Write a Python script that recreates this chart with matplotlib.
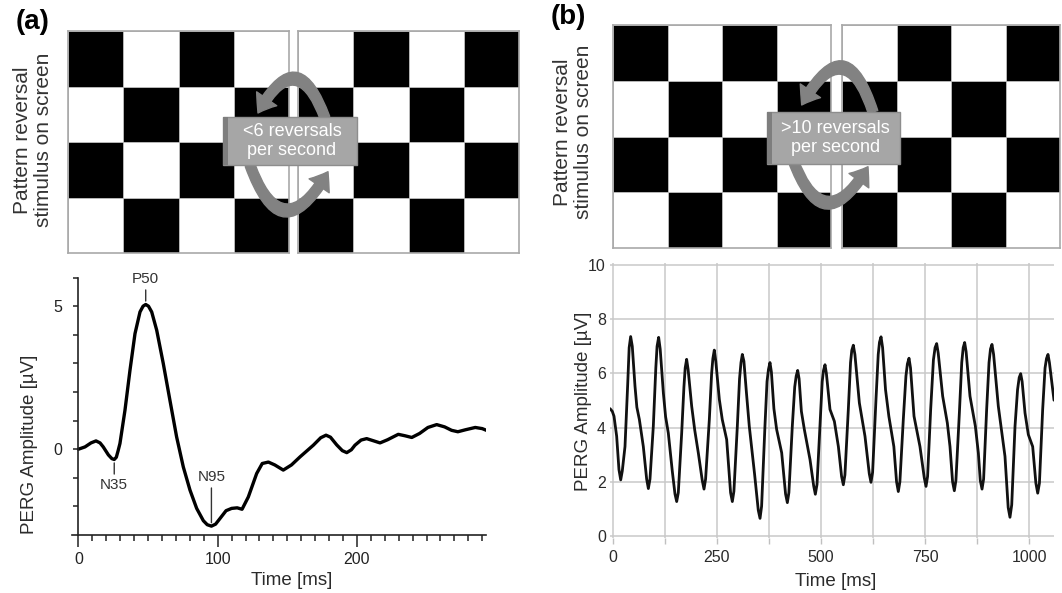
import matplotlib
matplotlib.use("Agg")
import matplotlib.pyplot as plt
import numpy as np
from matplotlib.patches import FancyArrowPatch, Rectangle
from matplotlib.ticker import FixedLocator

W, H = 1062, 593

# checkerboards (1 = black square), before and after a reversal
BOARD_FIRST = [[1, 0, 1, 0], [0, 1, 0, 1], [1, 0, 1, 0], [0, 1, 0, 1]]
BOARD_REVERSED = [[0, 1, 0, 1], [1, 0, 1, 0], [0, 1, 0, 1], [1, 0, 1, 0]]

STIM_LABEL = "Pattern reversal\nstimulus on screen"
RATE_A = "<6 reversals\nper second"
RATE_B = ">10 reversals\nper second"

# (a) transient PERG, time [ms] / amplitude [uV]
TRANS_T = [0, 4.7, 9, 12.6, 15.5, 17.8, 21.5, 24, 25.7, 27.2, 28.5, 29.8,
           33.4, 37, 40.6, 44.2, 46.4, 48.3, 50.3, 52.6, 56.2, 60.9, 65.7, 70.5,
           75.3, 80.1, 84.9, 89.7, 92.5, 95.5, 98.5, 101.7, 106, 110, 114, 117.5,
           122, 128, 132, 136.4, 141, 147.1, 153, 159.1, 168.7, 174,
           177.8, 181, 185.5, 189.5, 192.7, 196, 198.6, 203, 207, 211.5,
           216.6, 222, 229.7, 234.5, 239.4, 245, 251, 257.3, 263, 268,
           272.5, 278, 285, 290, 293]
TRANS_V = [0.0, 0.08, 0.22, 0.29, 0.22, 0.08, -0.2, -0.33, -0.36, -0.28, -0.05, 0.2,
           1.36, 2.76, 4.04, 4.80, 5.00, 5.06, 5.00, 4.80, 4.16, 3.0, 1.71, 0.43,
           -0.62, -1.43, -2.07, -2.5, -2.64, -2.69, -2.62, -2.42, -2.15, -2.07, -2.05, -2.1,
           -1.67, -0.85, -0.5, -0.45, -0.55, -0.73, -0.55, -0.27, 0.14, 0.4,
           0.49, 0.42, 0.15, -0.05, -0.12, -0.02, 0.14, 0.32, 0.37, 0.3,
           0.22, 0.33, 0.52, 0.47, 0.41, 0.55, 0.76, 0.86, 0.78, 0.66,
           0.61, 0.68, 0.76, 0.72, 0.66]
PEAK_NAMES = ["N35", "P50", "N95"]
PEAK_T = [25.7, 48.3, 95.5]
PEAK_V = [-0.36, 5.06, -2.69]

# (b) steady-state PERG, one row per cycle
SS_T = [-6.5, -1, 3.1, 9.5, 15, 19.2,
        23, 29.5, 36, 39.5, 43.1, 47, 53.5, 58, 64.0, 73.5, 81.5, 85.6,
        89.5, 97.5, 103.5, 106.5, 110.3, 114, 121.6, 127, 133.5, 143, 149.5, 153.6,
        157.5, 165.6, 171, 174, 177.5, 181, 189.6, 197, 205.6, 215, 219.2,
        223, 232.0, 237.5, 240.5, 243.9, 247.5, 256.0, 263, 273.6, 283, 287.2,
        291, 299.2, 304.5, 308, 311.2, 315, 321, 327.9, 340.5, 349.5, 353.7,
        357.5, 365.5, 370.5, 374, 377.6, 381, 387, 393.6, 405.7, 415, 419.3,
        423, 431.2, 437, 440.5, 444.1, 447.5, 453, 460.1, 473.7, 482.5, 486.5,
        490.5, 497.6, 503, 506, 509.7, 513, 521.7, 532.2, 541.8, 549.5, 553.7,
        557.5, 565.7, 571, 574, 577.7, 581.5, 592.2, 605.7, 616, 620.1,
        624, 632.1, 637.5, 640.5, 644.2, 648, 655, 663, 675, 681.5, 685.7,
        689.5, 697.7, 704, 707.5, 711.4, 715, 723.4, 737.7, 748, 752.2,
        756, 763.4, 770, 774, 777.8, 781.5, 792.2, 803.4, 809.8, 816, 820.2,
        824, 832.3, 838, 841.5, 845.0, 848.5, 857.8, 870.7, 877.9, 882.5, 886.7,
        890.5, 897.8, 903.5, 907, 910.6, 914.5, 925.8, 941.8, 949.5, 953.8,
        958, 965.9, 972, 976, 979.5, 983, 989.9, 997.9, 1008.3, 1016, 1020.4,
        1024.5, 1032.3, 1038, 1041.5, 1045.1, 1048.5, 1059.5]
SS_V = [4.70, 4.60, 4.42, 3.68, 2.45, 2.07,
        2.40, 3.30, 5.60, 6.95, 7.36, 7.00, 5.53, 4.75, 4.30, 3.30, 2.10, 1.75,
        2.10, 4.05, 6.20, 7.00, 7.33, 6.90, 5.28, 4.40, 3.80, 2.40, 1.55, 1.27,
        1.60, 3.80, 5.50, 6.20, 6.52, 6.15, 4.79, 3.90, 3.06, 2.05, 1.73,
        2.10, 4.30, 6.00, 6.55, 6.86, 6.45, 5.04, 4.30, 3.56, 1.60, 1.27,
        1.65, 4.05, 5.80, 6.40, 6.70, 6.45, 5.30, 4.05, 2.30, 0.95, 0.65,
        1.10, 4.05, 5.70, 6.15, 6.40, 6.05, 4.70, 3.93, 3.07, 1.55, 1.23,
        1.60, 4.05, 5.50, 5.90, 6.11, 5.80, 4.60, 3.93, 2.82, 1.85, 1.54,
        1.90, 4.05, 5.70, 6.10, 6.32, 6.00, 4.67, 4.23, 3.30, 2.20, 1.89,
        2.25, 4.67, 6.40, 6.85, 7.04, 6.70, 4.91, 3.68, 2.30, 1.98,
        2.35, 5.04, 6.70, 7.15, 7.35, 6.95, 5.40, 4.42, 3.30, 2.00, 1.64,
        2.00, 4.30, 5.90, 6.35, 6.56, 6.20, 4.42, 3.30, 2.15, 1.83,
        2.20, 4.67, 6.50, 6.95, 7.10, 6.75, 5.16, 4.17, 3.30, 2.00, 1.67,
        2.05, 4.54, 6.40, 6.95, 7.14, 6.80, 5.16, 4.05, 3.06, 2.05, 1.73,
        2.10, 4.67, 6.40, 6.90, 7.07, 6.70, 4.79, 2.94, 1.05, 0.69,
        1.15, 4.05, 5.40, 5.85, 5.99, 5.70, 4.54, 3.74, 3.30, 1.95, 1.58,
        1.95, 4.67, 6.20, 6.55, 6.70, 6.40, 5.01]

SS_XTICKS = [0, 250, 500, 750, 1000]
SS_XMINOR = [125, 375, 625, 875]
SS_YTICKS = [0, 2, 4, 6, 8, 10]

plt.rcParams.update({
    "font.family": ["Liberation Sans", "DejaVu Sans"],
    "text.color": "#2b2b2b",
    "axes.labelcolor": "#2b2b2b",
    "xtick.color": "#222222",
    "ytick.color": "#222222",
})

fig = plt.figure(figsize=(W / 100, H / 100), dpi=100)


def px_axes(x0, y0, x1, y1):
    # place an axes from pixel corners (origin top-left)
    return fig.add_axes([x0 / W, 1 - y1 / H, (x1 - x0) / W, (y1 - y0) / H])


def draw_board(rect, pattern):
    ax = px_axes(*rect)
    ax.pcolormesh(np.array(pattern), cmap="gray_r", vmin=0, vmax=1,
                  edgecolors="#b5b5b5", linewidth=0.7)
    ax.set_xlim(0, 4)
    ax.set_ylim(4, 0)
    ax.set_xticks([])
    ax.set_yticks([])
    for sp in ax.spines.values():
        sp.set_color("#a9a9a9")
        sp.set_linewidth(1.2)


draw_board((68, 31, 289, 253), BOARD_FIRST)
draw_board((298, 31, 519, 253), BOARD_REVERSED)
draw_board((613, 25, 831, 248), BOARD_FIRST)
draw_board((842, 25, 1060, 248), BOARD_REVERSED)

# (a) transient response
axA = px_axes(71.5, 277.6, 486.4, 535)
axA.plot(TRANS_T, TRANS_V, color="black", lw=2.4,
         solid_joinstyle="round", solid_capstyle="round")
axA.set_xlim(-5, 293)
axA.set_ylim(-3, 6)
axA.spines["left"].set_position(("data", 0))
axA.spines["top"].set_visible(False)
axA.spines["right"].set_visible(False)
for sp in ("left", "bottom"):
    axA.spines[sp].set_linewidth(1.2)
    axA.spines[sp].set_color("#222222")
axA.set_xticks([0, 100, 200])
axA.xaxis.set_minor_locator(FixedLocator(np.arange(10, 300, 10)))
axA.set_yticks([0, 5])
axA.yaxis.set_minor_locator(FixedLocator([-2, -1, 1, 2, 3, 4, 6]))
axA.tick_params(axis="x", which="major", length=8.5, width=1.1, pad=4, labelsize=11.5)
axA.tick_params(axis="x", which="minor", length=4.5, width=1.1)
axA.tick_params(axis="y", which="both", length=3.8, width=1.1, pad=8, labelsize=11.5)
axA.set_xlabel("Time [ms]", fontsize=13.5)
axA.xaxis.set_label_coords(0.53, -0.145)
axA.set_ylabel("PERG Amplitude [µV]", fontsize=13.5)
axA.yaxis.set_label_coords(-0.08, 0.354)

for name, t, v in zip(PEAK_NAMES, PEAK_T, PEAK_V):
    above = v > 0 or name == "N95"
    if name == "N95":
        off = 28
    else:
        off = 11 if above else -11
    axA.annotate(name, xy=(t, v + (0.12 if v > 0 else (0.12 if above else -0.12))),
                 xytext=(0, off), textcoords="offset points",
                 ha="center", va="bottom" if above else "top", fontsize=11,
                 color="#333333",
                 arrowprops=dict(arrowstyle="-", color="#333333", lw=1.0,
                                 shrinkA=1, shrinkB=0))

# (b) steady-state response
axB = px_axes(610, 263.4, 1054, 537.6)
axB.plot(SS_T, SS_V, color="#111111", lw=2.0,
         solid_joinstyle="round", solid_capstyle="round", zorder=3)
axB.set_xlim(-6.5, 1059.5)
axB.set_ylim(-0.06, 10.06)
for sp in axB.spines.values():
    sp.set_visible(False)
axB.set_xticks(SS_XTICKS)
axB.xaxis.set_minor_locator(FixedLocator(SS_XMINOR))
axB.set_yticks(SS_YTICKS)
axB.grid(True, which="both", color="#c9c9c9", lw=1.1)
axB.set_axisbelow(True)
axB.tick_params(axis="x", which="both", length=4, width=1.0, color="#c0c0c0",
                pad=5, labelsize=11.5, labelcolor="#2b2b2b")
axB.tick_params(axis="y", length=0, pad=3, labelsize=11.5, labelcolor="#2b2b2b")
axB.set_xlabel("Time [ms]", fontsize=13.5)
axB.xaxis.set_label_coords(0.509, -0.128)
axB.set_ylabel("PERG Amplitude [µV]", fontsize=13.5)
axB.yaxis.set_label_coords(-0.041, 0.496)

# overlay in pixel coordinates for labels, arrows and rate boxes
ov = fig.add_axes([0, 0, 1, 1])
ov.set_xlim(0, W)
ov.set_ylim(H, 0)
ov.axis("off")

ov.text(33, 22, "(a)", fontsize=20, fontweight="bold", ha="center", va="center", color="black")
ov.text(568, 17, "(b)", fontsize=20, fontweight="bold", ha="center", va="center", color="black")
ov.text(33, 140, STIM_LABEL, fontsize=15, rotation=90, ha="center", va="center",
        linespacing=1.1, color="#333333")
ov.text(573, 132, STIM_LABEL, fontsize=15, rotation=90, ha="center", va="center",
        linespacing=1.1, color="#333333")


def reversal_arrow(start, end, rad):
    ov.add_patch(FancyArrowPatch(
        start, end, connectionstyle=f"arc3,rad={rad}",
        arrowstyle="simple,head_length=1.5,head_width=2.2,tail_width=0.9",
        mutation_scale=8, color="#828282", shrinkA=0, shrinkB=0, zorder=2))


def rate_box(x0, y0, x1, y1, text):
    ov.add_patch(Rectangle((x0, y0), x1 - x0, y1 - y0, facecolor="#a6a6a6",
                           edgecolor="#8d8d8d", lw=1.0, zorder=3))
    ov.add_patch(Rectangle((x0, y0), 5, y1 - y0, facecolor="#7e7e7e",
                           edgecolor="none", zorder=3))
    ov.text((x0 + x1) / 2 + 2, (y0 + y1) / 2, text, fontsize=13, color="white",
            ha="center", va="center", linespacing=1.22, zorder=4)


reversal_arrow((325, 118), (258, 113), 1.1)
reversal_arrow((250, 165), (328, 171.7), 1.08)
rate_box(223, 117, 357, 165, RATE_A)

reversal_arrow((873, 112), (801.7, 105), 1.15)
reversal_arrow((793, 160), (868, 166.7), 1.05)
rate_box(767, 112, 900, 164, RATE_B)

fig.savefig("out.png", dpi=100)
